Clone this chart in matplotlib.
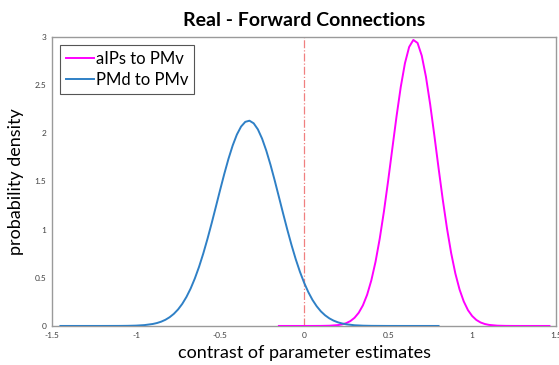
import matplotlib
matplotlib.use("Agg")
import matplotlib.pyplot as plt

# values
AIPS_X = [-0.15, 0.0, 0.05, 0.10, 0.15, 0.20, 0.225, 0.25, 0.275, 0.30, 0.325,
          0.35, 0.375, 0.40, 0.425, 0.45, 0.475, 0.50, 0.525, 0.55, 0.575, 0.60,
          0.625, 0.65, 0.675, 0.70, 0.725, 0.75, 0.775, 0.80, 0.825, 0.85, 0.875,
          0.90, 0.925, 0.95, 0.975, 1.00, 1.025, 1.05, 1.075, 1.10, 1.15, 1.20,
          1.25, 1.30, 1.46]
AIPS_Y = [0.0, 0.0, 0.0001, 0.0005, 0.0022, 0.0086, 0.016, 0.0288, 0.0501,
          0.0843, 0.1368, 0.214, 0.3238, 0.473, 0.6658, 0.906, 1.1886, 1.506,
          1.842, 2.175, 2.479, 2.726, 2.895, 2.968, 2.937, 2.805, 2.586, 2.301,
          1.977, 1.639, 1.312, 1.014, 0.756, 0.544, 0.378, 0.254, 0.164, 0.103,
          0.062, 0.0361, 0.0203, 0.011, 0.0029, 0.0007, 0.0001, 0.0, 0.0]

PMD_X = [-1.45, -1.30, -1.20, -1.10, -1.05, -1.00, -0.95, -0.90, -0.875, -0.85,
         -0.825, -0.80, -0.775, -0.75, -0.725, -0.70, -0.675, -0.65, -0.625,
         -0.60, -0.575, -0.55, -0.525, -0.50, -0.475, -0.45, -0.425, -0.40,
         -0.375, -0.35, -0.325, -0.30, -0.275, -0.25, -0.225, -0.20, -0.175,
         -0.15, -0.125, -0.10, -0.075, -0.05, -0.025, 0.0, 0.025, 0.05, 0.075,
         0.10, 0.125, 0.15, 0.175, 0.20, 0.225, 0.25, 0.30, 0.35, 0.40, 0.50,
         0.60, 0.80]
PMD_Y = [0.0, 0.0, 0.00004, 0.0004, 0.0013, 0.0035, 0.0088, 0.0205, 0.0305,
         0.0446, 0.0641, 0.0906, 0.1256, 0.171, 0.2288, 0.301, 0.3884, 0.493,
         0.6138, 0.751, 0.9029, 1.066, 1.2366, 1.409, 1.5769, 1.734, 1.8722,
         1.986, 2.069, 2.118, 2.130, 2.103, 2.040, 1.944, 1.8194, 1.673, 1.5108,
         1.340, 1.1679, 1.000, 0.8406, 0.694, 0.5633, 0.449, 0.3514, 0.270,
         0.2041, 0.151, 0.1104, 0.079, 0.0556, 0.0384, 0.026, 0.0174, 0.0073,
         0.0029, 0.0010, 0.0001, 0.0, 0.0]

X_TICKS = [-1.5, -1, -0.5, 0, 0.5, 1, 1.5]
Y_TICKS = [0, 0.5, 1, 1.5, 2, 2.5, 3]

plt.rcParams["font.family"] = ["Lato", "DejaVu Sans"]

fig = plt.figure(figsize=(5.59, 3.65), dpi=100)
ax = fig.add_axes([0.093, 0.107, 0.902, 0.792])

ax.plot(AIPS_X, AIPS_Y, color="#ff00ff", lw=1.4, label="aIPs to PMv", zorder=3,
        solid_joinstyle="round")
ax.plot(PMD_X, PMD_Y, color="#2f80c6", lw=1.4, label="PMd to PMv", zorder=3,
        solid_joinstyle="round")
ax.plot([0, 0], [0, 3], color="#f08080", lw=0.9, ls="-.", zorder=2)

ax.set_xlim(-1.5, 1.5)
ax.set_ylim(0, 3)
ax.set_xticks(X_TICKS)
ax.set_yticks(Y_TICKS)
ax.set_xticklabels([f"{t:g}" for t in X_TICKS])
ax.set_yticklabels([f"{t:g}" for t in Y_TICKS])
ax.tick_params(labelsize=6, labelcolor="#404040", length=0, pad=4)
for s in ax.spines.values():
    s.set_color("#9a9a9a")
    s.set_linewidth(1.0)

ax.set_title("Real - Forward Connections", fontsize=14, fontweight="bold", pad=8)
ax.set_xlabel("contrast of parameter estimates", fontsize=13, labelpad=5)
ax.set_ylabel("probability density", fontsize=13, labelpad=8)

leg = ax.legend(loc="upper left", fontsize=12, handlelength=1.7, handletextpad=0.1,
                borderpad=0.35, labelspacing=0.3, fancybox=False, framealpha=1,
                borderaxespad=0.5)
leg.get_frame().set_edgecolor("#555555")
leg.get_frame().set_linewidth(0.8)

fig.savefig("out.png", dpi=100)
